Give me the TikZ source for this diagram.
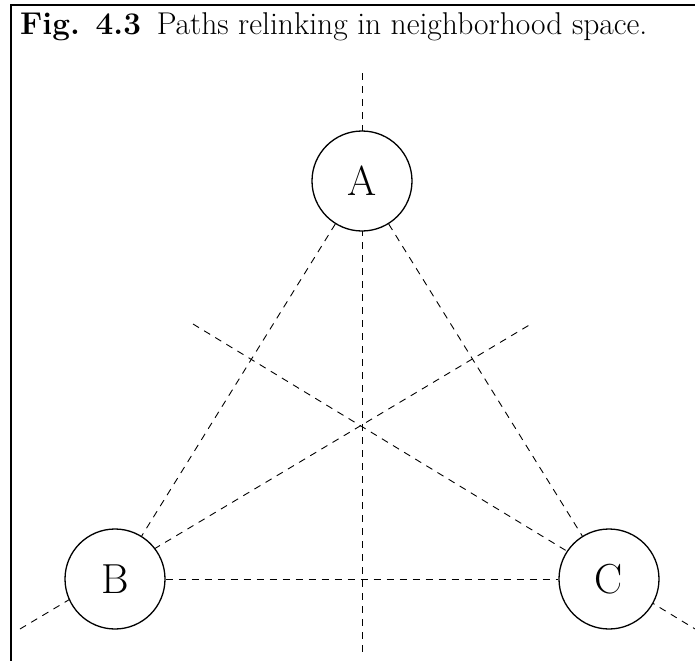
\documentclass[tikz,border=0pt]{standalone}
\usetikzlibrary{backgrounds}

\begin{document}
\begin{tikzpicture}[x=1pt, y=-1pt,
    site/.style={circle, draw, fill=white, line width=1.3pt, minimum size=100pt, inner sep=0pt, font=\fontsize{42}{44}\selectfont},
    link/.style={dash pattern=on 7pt off 6pt, line width=0.9pt}]
            \useasboundingbox (0,0) rectangle (695,661);
            % Frame and caption
            \draw[line width=2.5pt] (695,5) -- (11,5) -- (11,661);
            \node[anchor=base west, inner sep=0pt, font=\fontsize{31.5}{34}\selectfont] (title) at (20,35) {\textbf{Fig. 4.3}\enspace Paths relinking in neighborhood space.};
            % Solutions
            \node[site] (A) at (362,181) {A};
            \node[site] (B) at (115,579) {B};
            \node[site] (C) at (609,579) {C};
            % Free ends of the dashed lines
            \coordinate (top) at (362,73);
            \coordinate (bottom) at (362,652);
            \coordinate (bl) at (20,629);
            \coordinate (ur) at (531,324);
            \coordinate (ul) at (193,324);
            \coordinate (br) at (705,635);
            \begin{scope}[on background layer]
                \draw[link] (A) -- (B);
                \draw[link] (A) -- (C);
                \draw[link] (B) -- (C);
                \draw[link] (top) -- (bottom);
                \draw[link] (bl) -- (ur);
                \draw[link] (ul) -- (br);
            \end{scope}
        \end{tikzpicture}
\end{document}
